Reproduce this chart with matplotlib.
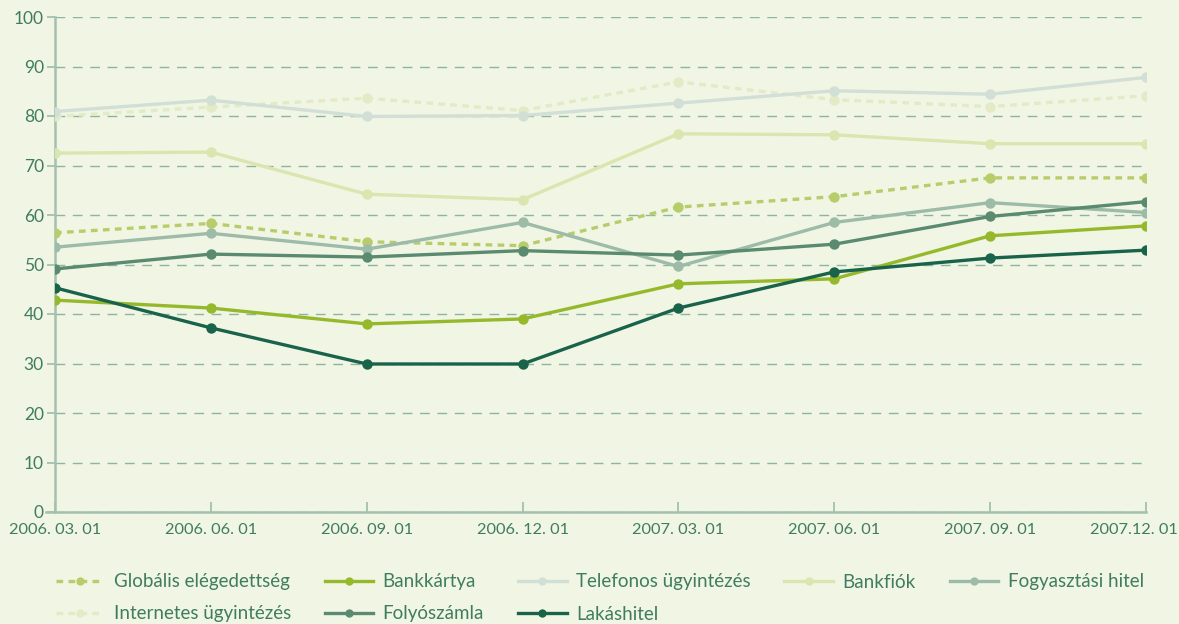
import matplotlib.pyplot as plt
import matplotlib.transforms as mtransforms
from matplotlib.lines import Line2D

dates = ['2006. 03. 01', '2006. 06. 01', '2006. 09. 01', '2006. 12. 01',
         '2007. 03. 01', '2007. 06. 01', '2007. 09. 01', '2007.12. 01']

globalis = [56.4, 58.3, 54.6, 53.8, 61.6, 63.7, 67.5, 67.5]
bankkartya = [42.8, 41.2, 38.0, 39.0, 46.1, 47.1, 55.8, 57.8]
telefonos = [80.9, 83.2, 79.9, 80.1, 82.6, 85.1, 84.4, 87.8]
bankfiok = [72.5, 72.7, 64.2, 63.1, 76.4, 76.2, 74.4, 74.4]
fogyasztasi = [53.5, 56.3, 53.1, 58.5, 49.6, 58.5, 62.5, 60.5]
internetes = [79.9, 81.8, 83.6, 81.1, 86.9, 83.3, 81.9, 84.1]
folyoszamla = [49.1, 52.1, 51.5, 52.8, 51.9, 54.1, 59.7, 62.7]
lakashitel = [45.3, 37.2, 29.9, 29.9, 41.2, 48.5, 51.3, 52.9]

bg = '#f1f5e4'
txt = '#3f7d5e'
axcol = '#a3c1ae'

plt.rcParams['font.family'] = ['Lato', 'DejaVu Sans']

fig = plt.figure(figsize=(11.79, 6.24), dpi=100, facecolor=bg)
ax = fig.add_axes([55 / 1179, 1 - 512 / 624, (1146 - 55) / 1179, (512 - 17) / 624])
ax.set_facecolor(bg)

x = list(range(len(dates)))

# (label, values, colour, dashed)
series = [
    ('Internetes ügyintézés', internetes, '#e3eac6', True),
    ('Telefonos ügyintézés', telefonos, '#d2dfd6', False),
    ('Bankfiók', bankfiok, '#dae5b0', False),
    ('Globális elégedettség', globalis, '#b7cd6b', True),
    ('Fogyasztási hitel', fogyasztasi, '#9dbba9', False),
    ('Folyószámla', folyoszamla, '#5a8a70', False),
    ('Bankkártya', bankkartya, '#95b92b', False),
    ('Lakáshitel', lakashitel, '#19634a', False),
]

handles = {}
for label, vals, col, dashed in series:
    ls = (0, (2, 1.6)) if dashed else '-'
    ax.plot(x, vals, color=col, lw=2.4, ls=ls, marker='o', ms=7.5,
            markeredgewidth=0, zorder=3)
    handles[label] = Line2D([], [], color=col, lw=2.4, ls=ls, marker='o',
                            ms=6, markeredgewidth=0)

ax.set_xlim(0, 7)
ax.set_ylim(0, 100)
ax.set_yticks(range(0, 101, 10))
ax.set_xticks(x)
ax.set_xticklabels(dates)
ax.yaxis.grid(True, color='#8db4a0', lw=1, ls=(0, (7, 5.5)))
ax.set_axisbelow(True)

for s in ['top', 'right']:
    ax.spines[s].set_visible(False)
for s in ['left', 'bottom']:
    ax.spines[s].set_color(axcol)
    ax.spines[s].set_linewidth(1.8)
ax.spines['bottom'].set_bounds(-0.06, 7)

ax.tick_params(axis='y', direction='out', length=6, width=1.3, color=axcol,
               labelcolor=txt, labelsize=12.5, pad=2)
ax.tick_params(axis='x', direction='in', length=7, width=1.3, color=axcol,
               labelcolor=txt, labelsize=11.8, pad=8)

# last date label sits against the right edge, nudge it left a bit
last = ax.get_xticklabels()[-1]
last.set_transform(last.get_transform() +
                   mtransforms.ScaledTranslation(-12 / 100, 0, fig.dpi_scale_trans))

order = ['Globális elégedettség', 'Internetes ügyintézés', 'Bankkártya',
         'Folyószámla', 'Telefonos ügyintézés', 'Lakáshitel', 'Bankfiók',
         'Fogyasztási hitel']
leg = fig.legend([handles[k] for k in order], order, ncol=5,
                 loc='upper left', bbox_to_anchor=(48 / 1179, 1 - 566 / 624),
                 frameon=False, fontsize=13.5, handlelength=2.6,
                 handletextpad=0.5, columnspacing=1.8, labelspacing=0.8,
                 borderaxespad=0)
for t in leg.get_texts():
    t.set_color(txt)

fig.savefig('out.png', dpi=100, facecolor=bg)
